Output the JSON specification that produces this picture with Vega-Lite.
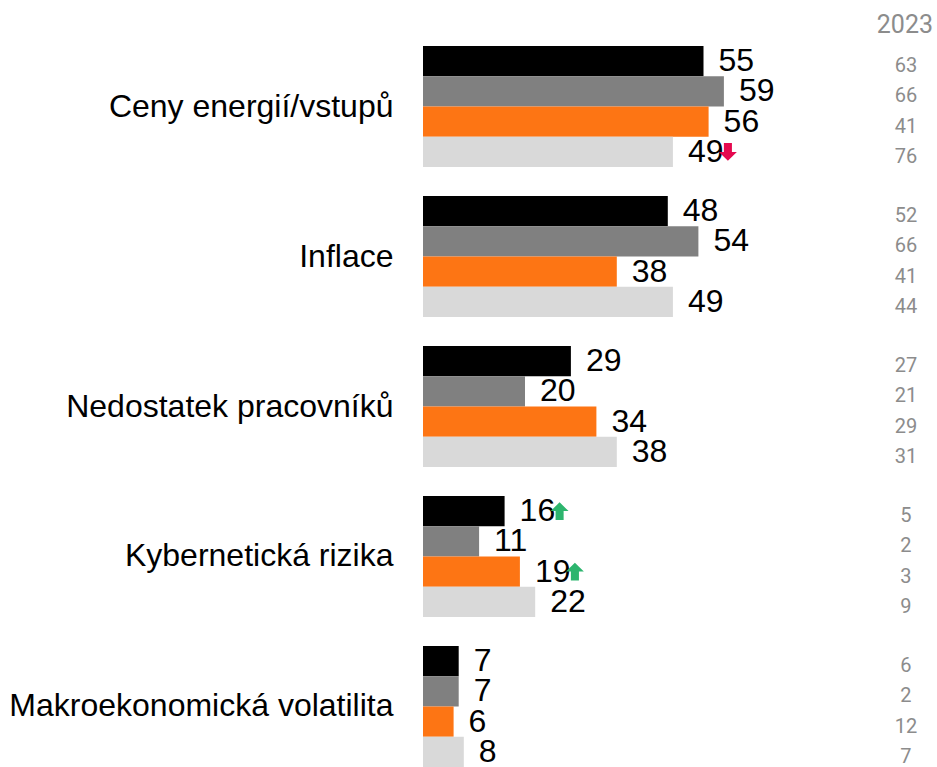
{
  "$schema": "https://vega.github.io/schema/vega-lite/v6.json",
  "width": 510,
  "height": 721,
  "autosize": {"type": "none"},
  "padding": {"left": 423, "top": 46, "right": 4, "bottom": 0},
  "background": "white",
  "config": {"view": {"stroke": null}},
  "title": {"text": "2023", "anchor": "end", "font": "Roboto", "fontWeight": 400, "fontSize": 25, "color": "#8c8c8c", "baseline": "alphabetic", "offset": 14, "dy": 27},
  "data": {"values": [
    {"category": "Ceny energií/vstupů", "series": "s1", "value": 55, "prev": 63, "arrow": ""},
    {"category": "Ceny energií/vstupů", "series": "s2", "value": 59, "prev": 66, "arrow": ""},
    {"category": "Ceny energií/vstupů", "series": "s3", "value": 56, "prev": 41, "arrow": ""},
    {"category": "Ceny energií/vstupů", "series": "s4", "value": 49, "prev": 76, "arrow": "down"},
    {"category": "Inflace", "series": "s1", "value": 48, "prev": 52, "arrow": ""},
    {"category": "Inflace", "series": "s2", "value": 54, "prev": 66, "arrow": ""},
    {"category": "Inflace", "series": "s3", "value": 38, "prev": 41, "arrow": ""},
    {"category": "Inflace", "series": "s4", "value": 49, "prev": 44, "arrow": ""},
    {"category": "Nedostatek pracovníků", "series": "s1", "value": 29, "prev": 27, "arrow": ""},
    {"category": "Nedostatek pracovníků", "series": "s2", "value": 20, "prev": 21, "arrow": ""},
    {"category": "Nedostatek pracovníků", "series": "s3", "value": 34, "prev": 29, "arrow": ""},
    {"category": "Nedostatek pracovníků", "series": "s4", "value": 38, "prev": 31, "arrow": ""},
    {"category": "Kybernetická rizika", "series": "s1", "value": 16, "prev": 5, "arrow": "up"},
    {"category": "Kybernetická rizika", "series": "s2", "value": 11, "prev": 2, "arrow": ""},
    {"category": "Kybernetická rizika", "series": "s3", "value": 19, "prev": 3, "arrow": "up"},
    {"category": "Kybernetická rizika", "series": "s4", "value": 22, "prev": 9, "arrow": ""},
    {"category": "Makroekonomická volatilita", "series": "s1", "value": 7, "prev": 6, "arrow": ""},
    {"category": "Makroekonomická volatilita", "series": "s2", "value": 7, "prev": 2, "arrow": ""},
    {"category": "Makroekonomická volatilita", "series": "s3", "value": 6, "prev": 12, "arrow": ""},
    {"category": "Makroekonomická volatilita", "series": "s4", "value": 8, "prev": 7, "arrow": ""}
  ]},
  "encoding": {
    "y": {"field": "category", "type": "nominal", "sort": null,
      "scale": {"paddingInner": 0.1933, "paddingOuter": 0},
      "axis": {"title": null, "ticks": false, "domain": false, "labelFont": "Liberation Sans", "labelFontSize": 32, "labelColor": "#000000", "labelPadding": 30, "labelLimit": 420}},
    "yOffset": {"field": "series", "type": "nominal", "sort": null, "scale": {"paddingInner": 0, "paddingOuter": 0}}
  },
  "layer": [
    {
      "mark": {"type": "bar"},
      "encoding": {
        "x": {"field": "value", "type": "quantitative", "scale": {"domain": [0, 100], "nice": false}, "axis": null},
        "color": {"field": "series", "type": "nominal", "scale": {"domain": ["s1", "s2", "s3", "s4"], "range": ["#000000", "#808080", "#fd7514", "#d9d9d9"]}, "legend": null}
      }
    },
    {
      "mark": {"type": "text", "align": "left", "baseline": "middle", "dx": 15, "font": "Liberation Sans", "fontSize": 32, "color": "#000000"},
      "encoding": {
        "x": {"field": "value", "type": "quantitative"},
        "text": {"field": "value", "type": "quantitative"}
      }
    },
    {
      "mark": {"type": "text", "align": "center", "baseline": "middle", "dy": 5, "font": "Roboto", "fontWeight": 400, "fontSize": 20, "color": "#8c8c8c"},
      "encoding": {
        "x": {"datum": 94.7, "type": "quantitative"},
        "text": {"field": "prev", "type": "quantitative"}
      }
    },
    {
      "transform": [{"filter": "datum.arrow === 'up'"}],
      "mark": {"type": "point", "filled": true, "size": 320, "xOffset": 55, "color": "#2db56e", "opacity": 1, "shape": "M-0.45,1V0H-1L0,-1L1,0H0.45V1Z"},
      "encoding": {
        "x": {"field": "value", "type": "quantitative"}
      }
    },
    {
      "transform": [{"filter": "datum.arrow === 'down'"}],
      "mark": {"type": "point", "filled": true, "size": 320, "xOffset": 55, "color": "#e5094f", "opacity": 1, "shape": "M-0.45,-1V0H-1L0,1L1,0H0.45V-1Z"},
      "encoding": {
        "x": {"field": "value", "type": "quantitative"}
      }
    }
  ]
}
